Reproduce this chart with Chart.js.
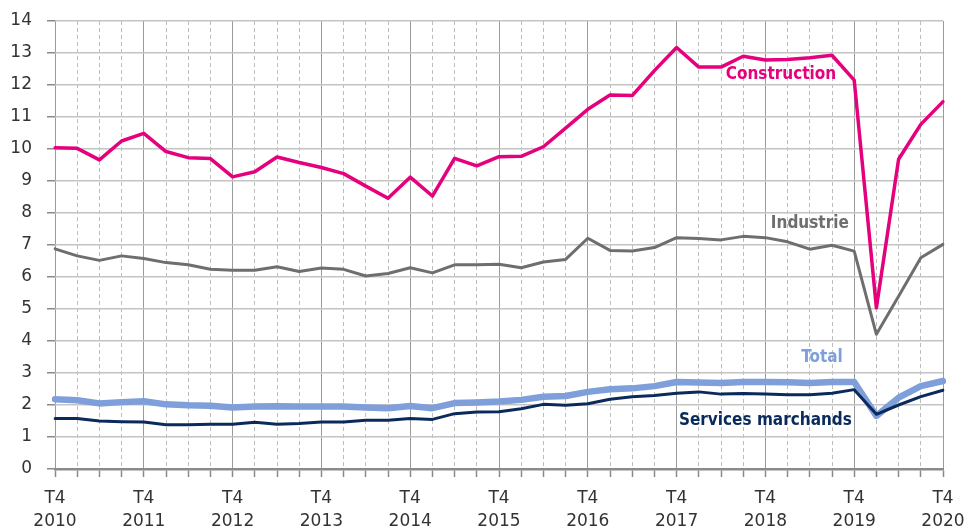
<!DOCTYPE html>
<html>
<head>
<meta charset="utf-8">
<script src="https://cdn.jsdelivr.net/npm/chart.js@4"></script>
<style>
  html, body { margin: 0; padding: 0; background: #fff; }
  #wrap { width: 965px; height: 527px; position: relative; }
</style>
</head>
<body>
<div id="wrap"><canvas id="chart"></canvas></div>
<script>
// quarterly, T4 2010 .. T4 2020
const years = ['2010', '2011', '2012', '2013', '2014', '2015', '2016', '2017', '2018', '2019', '2020'];
const quarters = [];
years.forEach((y, i) => {
  if (i === 0) { quarters.push('T4 ' + y); return; }
  ['T1', 'T2', 'T3', 'T4'].forEach(q => quarters.push(q + ' ' + y));
});

const construction = [10.04, 10.02, 9.66, 10.25, 10.49, 9.92, 9.73, 9.70, 9.13, 9.29, 9.75, 9.58, 9.42,
  9.23, 8.84, 8.46, 9.12, 8.53, 9.71, 9.47, 9.76, 9.77, 10.07, 10.65, 11.24, 11.69, 11.67,
  12.45, 13.17, 12.56, 12.56, 12.90, 12.78, 12.80, 12.85, 12.93, 12.15, 5.04, 9.68, 10.77, 11.48];
const industrie = [6.88, 6.66, 6.52, 6.66, 6.58, 6.45, 6.38, 6.24, 6.21, 6.21, 6.32, 6.17, 6.28,
  6.24, 6.03, 6.11, 6.29, 6.13, 6.38, 6.38, 6.40, 6.29, 6.47, 6.55, 7.21, 6.83, 6.81,
  6.92, 7.23, 7.20, 7.16, 7.27, 7.23, 7.10, 6.87, 6.99, 6.81, 4.21, 5.40, 6.60, 7.02];
const total = [2.18, 2.15, 2.05, 2.09, 2.12, 2.02, 1.99, 1.98, 1.92, 1.95, 1.96, 1.95, 1.95,
  1.95, 1.92, 1.90, 1.97, 1.90, 2.06, 2.08, 2.11, 2.16, 2.26, 2.28, 2.41, 2.49, 2.52,
  2.59, 2.72, 2.70, 2.69, 2.72, 2.72, 2.71, 2.69, 2.72, 2.72, 1.66, 2.23, 2.59, 2.75];
const services = [1.58, 1.58, 1.50, 1.48, 1.47, 1.38, 1.38, 1.40, 1.40, 1.46, 1.40, 1.42, 1.47,
  1.47, 1.52, 1.52, 1.58, 1.55, 1.73, 1.78, 1.79, 1.88, 2.02, 1.99, 2.04, 2.18, 2.26,
  2.30, 2.37, 2.41, 2.34, 2.36, 2.34, 2.32, 2.32, 2.37, 2.48, 1.71, 2.00, 2.26, 2.46];

const yTicks = [0, 1, 2, 3, 4, 5, 6, 7, 8, 9, 10, 11, 12, 13, 14];

const PINK = '#E5007D', GREY = '#6E6E6E', LIGHTBLUE = '#7E9FD9', NAVY = '#0B2A5C';

// series names written next to the lines
const seriesLabels = {
  id: 'seriesLabels',
  afterDatasetsDraw(chart) {
    const { ctx, scales: { x, y } } = chart;
    const items = [
      { text: 'Construction', color: PINK, at: [32.7, 12.34] },
      { text: 'Industrie', color: GREY, at: [34.0, 7.66] },
      { text: 'Total', color: LIGHTBLUE, at: [34.55, 3.47] },
      { text: 'Services marchands', color: NAVY, at: [32.0, 1.5] }
    ];
    ctx.save();
    ctx.font = 'bold 17px "DejaVu Sans Condensed", "DejaVu Sans", sans-serif';
    ctx.textAlign = 'center';
    ctx.textBaseline = 'middle';
    items.forEach(it => {
      ctx.fillStyle = it.color;
      ctx.fillText(it.text, x.getPixelForValue(it.at[0]), y.getPixelForValue(it.at[1]));
    });
    ctx.restore();
  }
};

new Chart(document.getElementById('chart'), {
  type: 'line',
  data: {
    labels: quarters,
    datasets: [
      { label: 'Construction', data: construction, borderColor: PINK, borderWidth: 3.5 },
      { label: 'Industrie', data: industrie, borderColor: GREY, borderWidth: 3 },
      { label: 'Services marchands', data: services, borderColor: NAVY, borderWidth: 3 },
      { label: 'Total', data: total, borderColor: LIGHTBLUE, borderWidth: 6.5 }
    ]
  },
  options: {
    responsive: true,
    maintainAspectRatio: false,
    animation: false,
    layout: { padding: { top: 21, right: 22, left: 0, bottom: 0 } },
    elements: {
      point: { radius: 0 },
      line: { tension: 0, borderJoinStyle: 'round', borderCapStyle: 'round' }
    },
    plugins: {
      legend: { display: false },
      tooltip: { enabled: false }
    },
    scales: {
      x: {
        offset: false,
        afterFit(scale) {
          scale.height = 58;
          scale.paddingLeft = 0;
          scale.paddingRight = 0;
        },
        grid: {
          color: ctx => ctx.index % 4 === 0 ? '#9a9a9a' : '#bdbdbd',
          lineWidth: 1,
          tickLength: 8,
          tickColor: '#8a8a8a',
          tickWidth: 1.5
        },
        border: {
          display: true,
          color: '#8a8a8a',
          width: 2.5,
          dash: ctx => (ctx.type === 'tick' && ctx.index % 4 !== 0) ? [4, 3] : []
        },
        ticks: {
          autoSkip: false,
          maxRotation: 0,
          padding: 11,
          color: '#333',
          font: { family: '"DejaVu Sans", sans-serif', size: 17, lineHeight: 1.3 },
          callback(value, index) {
            if (index % 4 !== 0) return '';
            return quarters[index].split(' ');
          }
        }
      },
      y: {
        min: 0,
        max: 14,
        afterFit(scale) {
          scale.width = 55;
          scale.paddingTop = 0;
          scale.paddingBottom = 0;
        },
        afterBuildTicks(scale) { scale.ticks = yTicks.map(v => ({ value: v })); },
        grid: {
          color: '#c4c4c4',
          lineWidth: 1.5,
          tickLength: 8,
          tickColor: '#8a8a8a'
        },
        border: { display: false },
        ticks: {
          padding: 15,
          color: '#333',
          font: { family: '"DejaVu Sans", sans-serif', size: 17 }
        }
      }
    }
  },
  plugins: [seriesLabels]
});
</script>
</body>
</html>
